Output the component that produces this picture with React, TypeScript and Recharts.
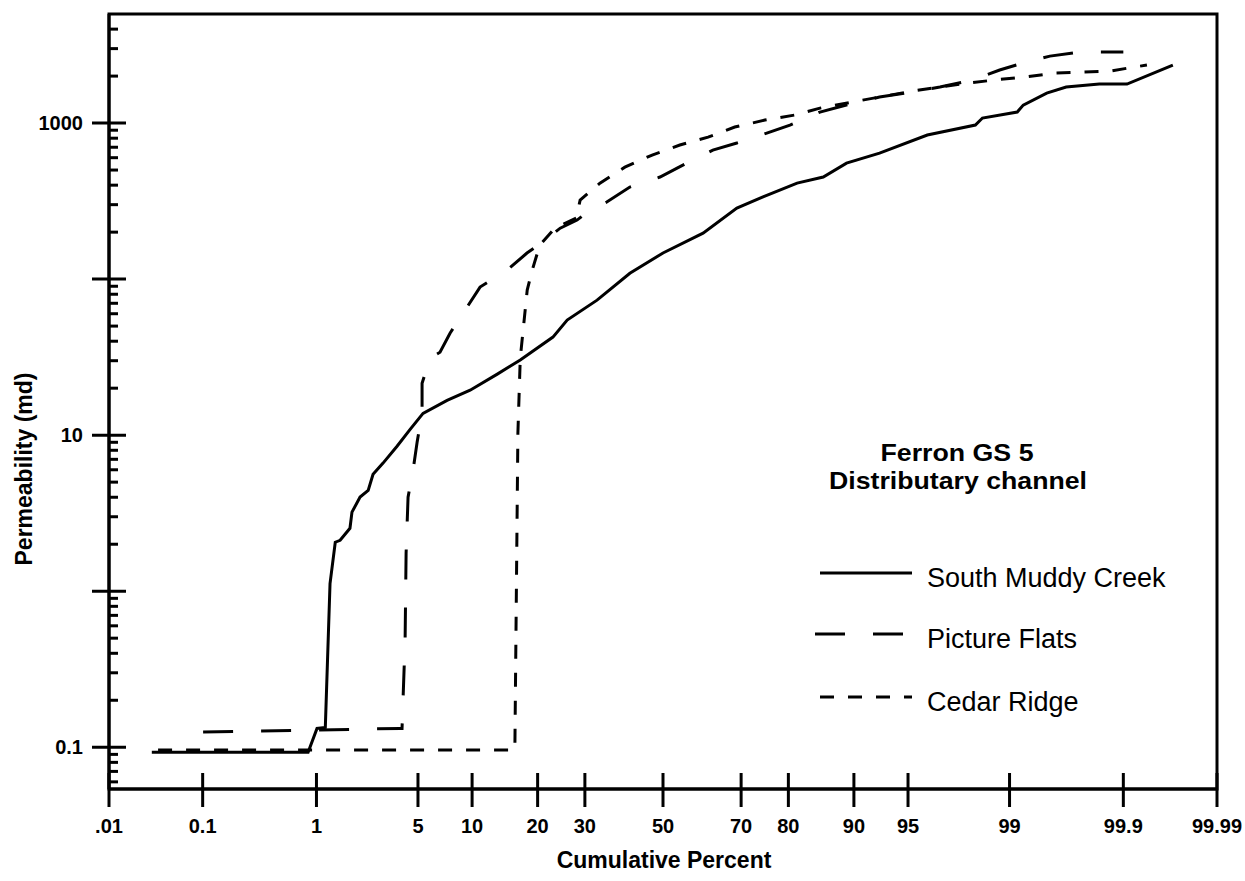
import React from 'react';
import { LineChart, Line, XAxis, YAxis, ReferenceArea, Legend, Label } from 'recharts';

const FONT = '"Liberation Sans", Arial, Helvetica, sans-serif';

// ---- axis ticks ----
const percentTicks = [0.01, 0.1, 1, 5, 10, 20, 30, 50, 70, 80, 90, 95, 99, 99.9, 99.99];
const percentTickLabels = ['.01', '0.1', '1', '5', '10', '20', '30', '50', '70', '80', '90', '95', '99', '99.9', '99.99'];
const percentDomain = [0.01, 99.99];

const permTicks = [
  0.06, 0.07, 0.08, 0.09, 0.1,
  0.2, 0.3, 0.4, 0.5, 0.6, 0.7, 0.8, 0.9, 1,
  2, 3, 4, 5, 6, 7, 8, 9, 10,
  20, 30, 40, 50, 60, 70, 80, 90, 100,
  200, 300, 400, 500, 600, 700, 800, 900, 1000,
  2000, 3000, 4000,
];
const permMajorTicks = [0.1, 1, 10, 100, 1000];
const permLabeledTicks = [0.1, 10, 1000];
const permTickLabels = ['0.1', '10', '1000'];
const permDomain = [0.054, 5000];

// ---- series ----
const seriesNames = ['South Muddy Creek', 'Picture Flats', 'Cedar Ridge'];

const southMuddyPct = [0.03, 0.86, 1.01, 1.17, 1.27, 1.39, 1.51, 1.78, 1.84, 2.1, 2.39, 2.58, 3.01, 3.71, 4.48, 5.36, 7.36, 9.77, 13.3, 16.9, 23.0, 26.0, 32.9, 41.2, 50.0, 60.6, 69.0, 74.9, 81.6, 85.9, 89.1, 92.7, 96.2, 98.2, 98.4, 99.13, 99.22, 99.5, 99.66, 99.83, 99.908, 99.969];
const southMuddyPerm = [0.093, 0.093, 0.132, 0.134, 1.12, 2.06, 2.12, 2.53, 3.21, 4.01, 4.43, 5.62, 6.62, 8.49, 10.9, 13.8, 16.7, 19.4, 24.6, 30.3, 42.5, 54.6, 73.3, 109, 147, 197, 285, 336, 412, 451, 554, 642, 838, 971, 1077, 1176, 1304, 1557, 1701, 1778, 1778, 2355];

const pictureFlatsPct = [0.101, 3.88, 3.99, 4.17, 4.23, 4.35, 4.67, 4.94, 5.29, 5.29, 5.89, 6.72, 7.64, 9.42, 10.97, 14.76, 18.06, 21.0, 24.5, 28.2, 31.2, 35.3, 41.2, 49.2, 55.3, 63.1, 69.0, 75.7, 80.3, 85.4, 90.4, 92.7, 95.3, 96.85, 98.13, 98.81, 99.22, 99.53, 99.74, 99.9];
const pictureFlatsPerm = [0.125, 0.132, 0.132, 0.485, 1.75, 4.0, 5.97, 9.0, 13.8, 21.5, 31.2, 34, 45, 66.2, 88.9, 114, 147, 173, 212, 239, 277, 312, 389, 451, 538, 671, 745, 863, 971, 1176, 1364, 1468, 1580, 1701, 1889, 2188, 2427, 2686, 2851, 2851];

const cedarRidgePct = [0.035, 16.0, 16.5, 16.9, 18.1, 19.0, 20.4, 23.4, 28.0, 28.9, 33.6, 39.9, 47.1, 54.5, 61.9, 68.5, 75.3, 81.2, 85.4, 90.4, 95.3, 97.7, 98.7, 99.25, 99.57, 99.865, 99.942];
const cedarRidgePerm = [0.096, 0.096, 10.3, 31.2, 85, 114, 165, 212, 246, 321, 412, 522, 624, 723, 813, 943, 1045, 1126, 1247, 1384, 1603, 1778, 1889, 1972, 2093, 2154, 2355];

// inverse standard normal CDF (probability-paper transform of the x axis)
function probit(percent: number): number {
  const p = percent / 100;
  const a = [-3.969683028665376e1, 2.209460984245205e2, -2.759285104469687e2, 1.38357751867269e2, -3.066479806614716e1, 2.506628277459239];
  const b = [-5.447609879822406e1, 1.615858368580409e2, -1.556989798598866e2, 6.680131188771972e1, -1.328068155288572e1];
  const c = [-7.784894002430293e-3, -3.223964580411365e-1, -2.400758277161838, -2.549732539343734, 4.374664141464968, 2.938163982698783];
  const d = [7.784695709041462e-3, 3.224671290700398e-1, 2.445134137142996, 3.754408661907416];
  const plow = 0.02425;
  if (p < plow) {
    const q = Math.sqrt(-2 * Math.log(p));
    return (((((c[0] * q + c[1]) * q + c[2]) * q + c[3]) * q + c[4]) * q + c[5]) / ((((d[0] * q + d[1]) * q + d[2]) * q + d[3]) * q + 1);
  }
  if (p <= 1 - plow) {
    const q = p - 0.5;
    const r = q * q;
    return ((((((a[0] * r + a[1]) * r + a[2]) * r + a[3]) * r + a[4]) * r + a[5]) * q) / (((((b[0] * r + b[1]) * r + b[2]) * r + b[3]) * r + b[4]) * r + 1);
  }
  const q = Math.sqrt(-2 * Math.log(1 - p));
  return -(((((c[0] * q + c[1]) * q + c[2]) * q + c[3]) * q + c[4]) * q + c[5]) / ((((d[0] * q + d[1]) * q + d[2]) * q + d[3]) * q + 1);
}

const toRows = (pct: number[], perm: number[]) => pct.map((p, i) => ({ z: probit(p), perm: perm[i] }));

const southMuddyRows = toRows(southMuddyPct, southMuddyPerm);
const pictureFlatsRows = toRows(pictureFlatsPct, pictureFlatsPerm);
const cedarRidgeRows = toRows(cedarRidgePct, cedarRidgePerm);

const zTicks = percentTicks.map(probit);
const zDomain = percentDomain.map(probit);

const near = (a: number, b: number) => Math.abs(a - b) <= Math.abs(b) * 1e-6 + 1e-9;

const XTick = (props: any) => {
  const { x, y, payload } = props;
  const idx = zTicks.findIndex((t) => near(t, payload.value));
  return (
    <g>
      <line x1={x} x2={x} y1={y - 16} y2={y + 18} stroke="#000" strokeWidth={3} />
      <text x={x} y={y + 44} textAnchor="middle" fontFamily={FONT} fontWeight="bold" fontSize={20} fill="#000">
        {idx >= 0 ? percentTickLabels[idx] : ''}
      </text>
    </g>
  );
};

const YTick = (props: any) => {
  const { x, y, payload } = props;
  const v = payload.value;
  const major = permMajorTicks.some((m) => near(v, m));
  const li = permLabeledTicks.findIndex((m) => near(v, m));
  return (
    <g>
      {major ? (
        <line x1={x - 17} x2={x + 17} y1={y} y2={y} stroke="#000" strokeWidth={3} />
      ) : (
        <line x1={x} x2={x + 9} y1={y} y2={y} stroke="#000" strokeWidth={3} />
      )}
      {li >= 0 && (
        <text x={x - 26} y={y + 7} textAnchor="end" fontFamily={FONT} fontWeight="bold" fontSize={20} fill="#000">
          {permTickLabels[li]}
        </text>
      )}
    </g>
  );
};

const LegendBox = (props: any) => {
  const payload: any[] = props.payload || [];
  const rowsY = [153, 214, 277];
  const starts = [20, 15, 20];
  const ends = [112, 103, 112];
  const dashFor = (name: string) => {
    const entry = payload.find((e) => e && e.value === name);
    return entry && entry.payload ? entry.payload.strokeDasharray : undefined;
  };
  return (
    <svg width={420} height={320} style={{ display: 'block', overflow: 'visible' }}>
      <text x={157} y={41} textAnchor="middle" fontFamily={FONT} fontWeight="bold" fontSize={24} fill="#000" textLength={153} lengthAdjust="spacingAndGlyphs">
        Ferron GS 5
      </text>
      <text x={158} y={69} textAnchor="middle" fontFamily={FONT} fontWeight="bold" fontSize={24} fill="#000" textLength={258} lengthAdjust="spacingAndGlyphs">
        Distributary channel
      </text>
      {seriesNames.map((name, i) => (
        <g key={name}>
          <line x1={starts[i]} x2={ends[i]} y1={rowsY[i]} y2={rowsY[i]} stroke="#000" strokeWidth={3} strokeDasharray={dashFor(name)} />
          <text x={127} y={rowsY[i] + 14} fontFamily={FONT} fontSize={27} fill="#000">
            {name}
          </text>
        </g>
      ))}
    </svg>
  );
};

export default function App() {
  return (
    <div style={{ position: 'absolute', left: 0, top: 0, background: '#fff' }}>
      <LineChart width={1245} height={881} margin={{ top: 14, right: 28, bottom: 0, left: 0 }}>
        <XAxis
          dataKey="z"
          type="number"
          domain={zDomain}
          allowDataOverflow
          ticks={zTicks}
          interval={0}
          height={92}
          tickSize={0}
          tickMargin={0}
          tickLine={false}
          tick={<XTick />}
          axisLine={{ stroke: '#000', strokeWidth: 3 }}
        >
          <Label
            content={() => (
              <text x={664} y={868} textAnchor="middle" fontFamily={FONT} fontWeight="bold" fontSize={23} fill="#000">
                Cumulative Percent
              </text>
            )}
          />
        </XAxis>
        <YAxis
          type="number"
          scale="log"
          domain={permDomain}
          allowDataOverflow
          ticks={permTicks}
          interval={0}
          width={109}
          tickSize={0}
          tickMargin={0}
          tickLine={false}
          tick={<YTick />}
          axisLine={{ stroke: '#000', strokeWidth: 3 }}
        >
          <Label
            content={() => (
              <text
                x={32}
                y={469}
                transform="rotate(-90 32 469)"
                textAnchor="middle"
                fontFamily={FONT}
                fontWeight="bold"
                fontSize={23}
                fill="#000"
              >
                Permeability (md)
              </text>
            )}
          />
        </YAxis>
        <ReferenceArea
          x1={zDomain[0]}
          x2={zDomain[1]}
          y1={permDomain[0]}
          y2={permDomain[1]}
          fill="none"
          stroke="#000"
          strokeWidth={3}
          ifOverflow="visible"
        />
        <Line
          data={southMuddyRows}
          dataKey="perm"
          name={seriesNames[0]}
          type="linear"
          stroke="#000"
          strokeWidth={3}
          dot={false}
          activeDot={false}
          isAnimationActive={false}
        />
        <Line
          data={pictureFlatsRows}
          dataKey="perm"
          name={seriesNames[1]}
          type="linear"
          stroke="#000"
          strokeWidth={3}
          strokeDasharray="30 28"
          dot={false}
          activeDot={false}
          isAnimationActive={false}
        />
        <Line
          data={cedarRidgeRows}
          dataKey="perm"
          name={seriesNames[2]}
          type="linear"
          stroke="#000"
          strokeWidth={3}
          strokeDasharray="14 14"
          dot={false}
          activeDot={false}
          isAnimationActive={false}
        />
        <Legend
          layout="vertical"
          align="center"
          verticalAlign="middle"
          content={<LegendBox />}
          wrapperStyle={{ left: 800, top: 420, width: 420, height: 320 }}
        />
      </LineChart>
    </div>
  );
}
